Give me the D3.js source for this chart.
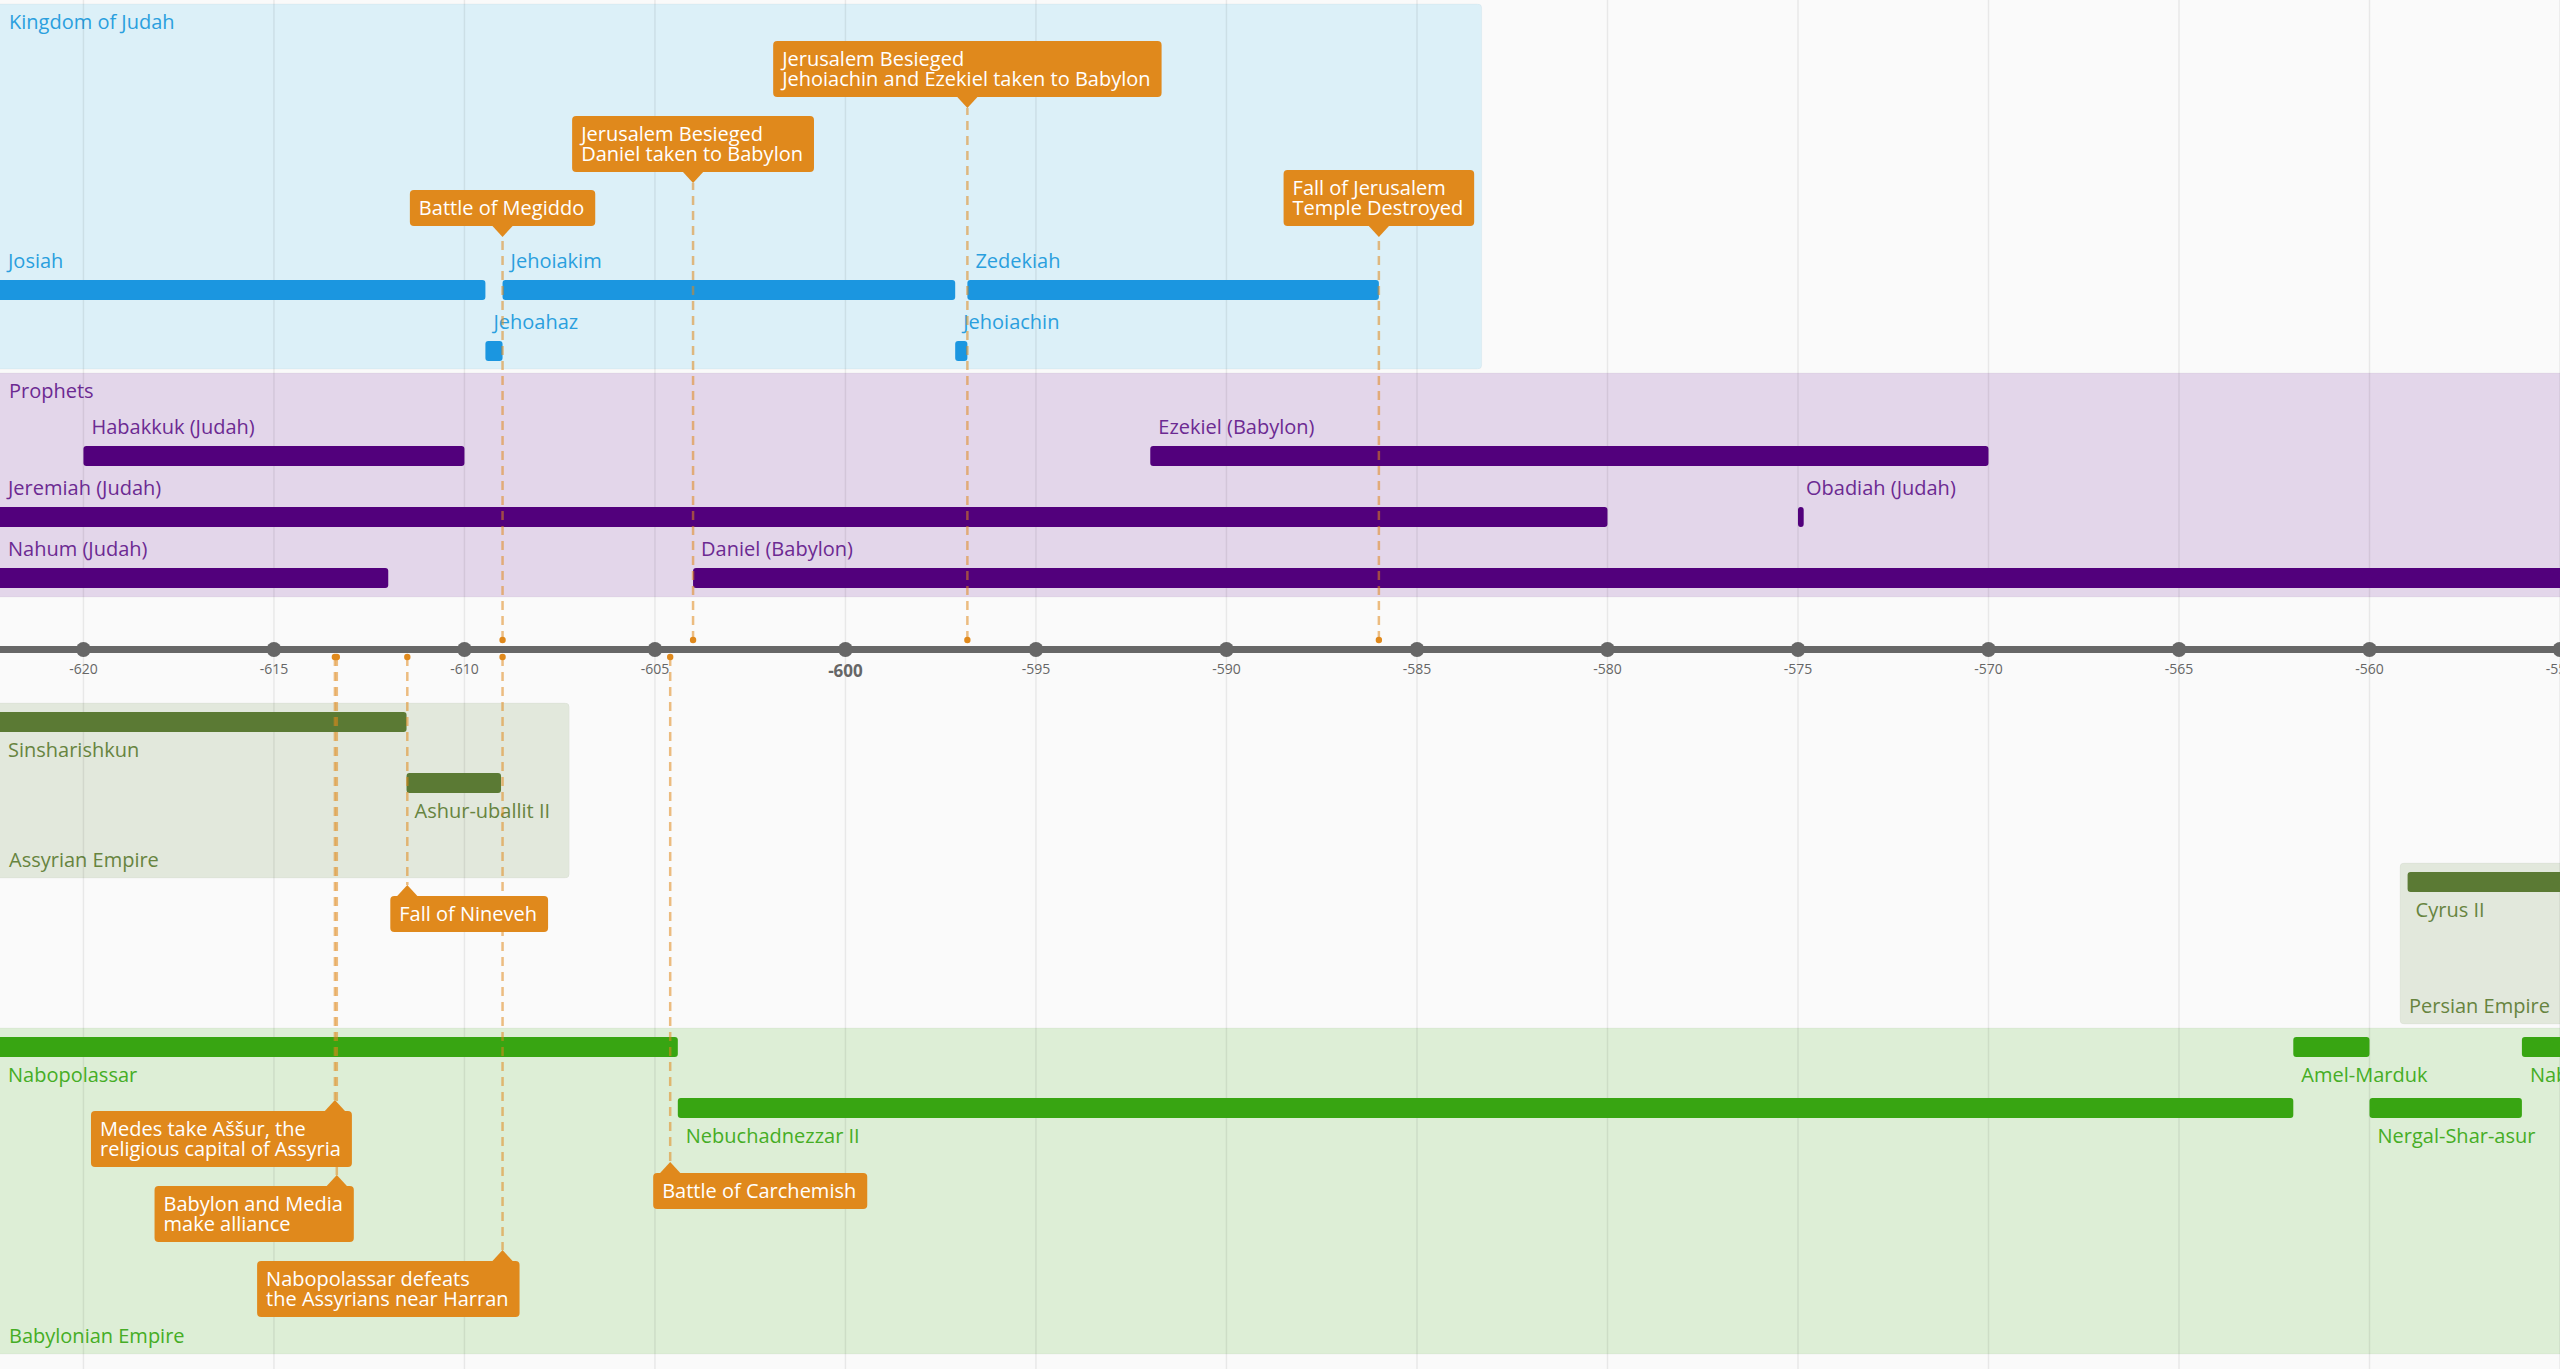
<!DOCTYPE html>
<html>
<head>
<meta charset="utf-8">
<script src="https://cdn.jsdelivr.net/npm/d3@7"></script>
<style>
  body { margin: 0; background: #fafafa; overflow: hidden; }
  svg { display: block; font-family: "Open Sans", sans-serif; }
</style>
</head>
<body>
<div class="chart"></div>
<script>
// ---- data (years are astronomical, negative = BC) ----
const judahReigns = [
  { name: "Josiah",     start: -640,    end: -609.45, row: 0 },
  { name: "Jehoiakim",  start: -609.0,  end: -597.12, row: 0 },
  { name: "Zedekiah",   start: -596.8,  end: -586.0,  row: 0 },
  { name: "Jehoahaz",   start: -609.45, end: -609.0,  row: 1 },
  { name: "Jehoiachin", start: -597.12, end: -596.8,  row: 1 },
];
const prophets = [
  { name: "Habakkuk (Judah)",  start: -620,    end: -610,    row: 0 },
  { name: "Ezekiel (Babylon)", start: -592,    end: -570,    row: 0 },
  { name: "Jeremiah (Judah)",  start: -627,    end: -580,    row: 1 },
  { name: "Obadiah (Judah)",   start: -575.0,  end: -574.85, row: 1 },
  { name: "Nahum (Judah)",     start: -630,    end: -612,    row: 2 },
  { name: "Daniel (Babylon)",  start: -604,    end: -530,    row: 2 },
];
const assyrianKings = [
  { name: "Sinsharishkun",    start: -627,    end: -611.52, row: 0 },
  { name: "Ashur-uballit II", start: -611.52, end: -609.04, row: 1 },
];
const persianKings = [
  { name: "Cyrus II", start: -559, end: -530, row: 0 },
];
const babylonianKings = [
  { name: "Nabopolassar",     start: -626,   end: -604.4, row: 0 },
  { name: "Amel-Marduk",      start: -562,   end: -560,   row: 0 },
  { name: "Nabonidus",        start: -556,   end: -539,   row: 0 },
  { name: "Nebuchadnezzar II", start: -604.4, end: -562,  row: 1 },
  { name: "Nergal-Shar-asur", start: -560,   end: -556,   row: 1 },
];
// band spans in years
const groupNames = ["Kingdom of Judah", "Prophets", "Assyrian Empire", "Persian Empire", "Babylonian Empire"];
const groupSpans = [[-640, -583.3], [-640, -530], [-640, -607.25], [-559.2, -530], [-640, -530]];
const groupItems = [judahReigns, prophets, assyrianKings, persianKings, babylonianKings];

const events = [
  { label: ["Battle of Megiddo"], year: -609.0, lane: "judah0", align: "center" },
  { label: ["Jerusalem Besieged", "Daniel taken to Babylon"], year: -604.0, lane: "judah1", align: "center" },
  { label: ["Jerusalem Besieged", "Jehoiachin and Ezekiel taken to Babylon"], year: -596.8, lane: "judah2", align: "center" },
  { label: ["Fall of Jerusalem", "Temple Destroyed"], year: -586.0, lane: "judah0", align: "center" },
  { label: ["Fall of Nineveh"], year: -611.5, lane: "assyria", align: "left" },
  { label: ["Medes take Aššur, the", "religious capital of Assyria"], year: -613.4, lane: "babylon0", align: "right" },
  { label: ["Babylon and Media", "make alliance"], year: -613.35, lane: "babylon1", align: "right" },
  { label: ["Nabopolassar defeats", "the Assyrians near Harran"], year: -609.0, lane: "babylon2", align: "right" },
  { label: ["Battle of Carchemish"], year: -604.6, lane: "babylonNeb", align: "left" },
];
const tickYears = d3.range(-620, -554, 5);

// ---- layout ----
const width = 2560, height = 1369;
const axisY = 649.5;
const barH = 20, rowStep = 61;
const groupLayout = [
  { side: "above", top: 4,    bottom: 369,  firstRow: 280,  band: "#dcf0f8", bar: "#1b96e0", text: "#2a9fde" },
  { side: "above", top: 373,  bottom: 597,  firstRow: 446,  band: "#e3d6ea", bar: "#52007c", text: "#6c2a92" },
  { side: "below", top: 703,  bottom: 878,  firstRow: 712,  band: "#e2e8dc", bar: "#5b7a34", text: "#67843f" },
  { side: "below", top: 863,  bottom: 1024, firstRow: 872,  band: "#e2e8dc", bar: "#5b7a34", text: "#67843f" },
  { side: "below", top: 1028, bottom: 1354, firstRow: 1037, band: "#ddeed6", bar: "#38a512", text: "#45ad25" },
];
const laneTip = { judah0: 237, judah1: 183, judah2: 108, assyria: 885, babylon0: 1100, babylon1: 1175, babylon2: 1250, babylonNeb: 1162 };
const eventColor = "#e0891c";
const labelSize = "20px";

const x = d3.scaleLinear().domain([-622.19, -555.0]).range([0, width]);

const svg = d3.select(".chart").append("svg")
  .attr("width", width)
  .attr("height", height);
svg.append("rect").attr("width", width).attr("height", height).attr("fill", "#fafafa");

const bands = svg.append("g").attr("class", "bands");
const grid = svg.append("g").attr("class", "grid");
const marks = svg.append("g").attr("class", "marks");
const lines = svg.append("g").attr("class", "event-lines");
const axis = svg.append("g").attr("class", "axis");
const callouts = svg.append("g").attr("class", "callouts");

//
// Bands
//
groupNames.forEach((name, i) => {
  const L = groupLayout[i];
  const x0 = Math.max(x(groupSpans[i][0]), -10);
  const x1 = Math.min(x(groupSpans[i][1]), width + 10);
  bands.append("rect")
    .attr("x", x0).attr("y", L.top)
    .attr("width", x1 - x0).attr("height", L.bottom - L.top)
    .attr("rx", 4)
    .attr("fill", L.band)
    .attr("stroke", "rgba(0,0,0,0.03)");
  bands.append("text")
    .attr("x", Math.max(x0, 0) + 9)
    .attr("y", L.side === "above" ? L.top + 25 : L.bottom - 11)
    .attr("fill", L.text)
    .style("font-size", labelSize)
    .text(name);
});

//
// Grid
//
grid.selectAll("line").data(tickYears).enter()
  .append("line")
    .attr("x1", d => x(d)).attr("x2", d => x(d))
    .attr("y1", 0).attr("y2", height)
    .attr("stroke", "rgba(0,0,0,0.07)")
    .attr("stroke-width", 1.5);

//
// Bars + labels
//
groupItems.forEach((items, i) => {
  const L = groupLayout[i];
  const g = marks.append("g");
  const rowY = r => L.firstRow + r * rowStep;
  g.selectAll("rect").data(items).enter()
    .append("rect")
      .attr("x", d => x(d.start))
      .attr("y", d => rowY(d.row))
      .attr("width", d => Math.max(x(d.end) - x(d.start), 3))
      .attr("height", barH)
      .attr("rx", 3)
      .attr("fill", L.bar);
  g.selectAll("text").data(items).enter()
    .append("text")
      .attr("x", d => Math.max(x(d.start), 0) + 8)
      .attr("y", d => L.side === "above" ? rowY(d.row) - 12 : rowY(d.row) + barH + 25)
      .attr("fill", L.text)
      .style("font-size", labelSize)
      .text(d => d.name);
});

//
// Event dashed lines + dots
//
events.forEach(d => {
  const px = x(d.year);
  const tip = laneTip[d.lane];
  const above = tip < axisY;
  const dotY = above ? axisY - 9.5 : axisY + 7.5;
  lines.append("line")
    .attr("x1", px).attr("x2", px)
    .attr("y1", dotY).attr("y2", tip)
    .attr("stroke", eventColor)
    .attr("stroke-opacity", 0.55)
    .attr("stroke-width", 2.5)
    .attr("stroke-dasharray", "9,6");
  lines.append("circle")
    .attr("cx", px).attr("cy", dotY).attr("r", 3.2)
    .attr("fill", eventColor);
});

//
// Axis
//
axis.append("line")
  .attr("x1", 0).attr("x2", width)
  .attr("y1", axisY).attr("y2", axisY)
  .attr("stroke", "#676767")
  .attr("stroke-width", 7);
axis.selectAll("circle").data(tickYears).enter()
  .append("circle")
    .attr("cx", d => x(d)).attr("cy", axisY).attr("r", 7.5)
    .attr("fill", "#676767");
axis.selectAll("text").data(tickYears).enter()
  .append("text")
    .attr("x", d => x(d))
    .attr("y", d => d % 100 === 0 ? 677 : 674)
    .attr("text-anchor", "middle")
    .attr("fill", "#666")
    .style("font-size", d => d % 100 === 0 ? "17px" : "14px")
    .style("font-weight", d => d % 100 === 0 ? "bold" : "normal")
    .text(d => d);

//
// Callouts
//
const lineH = 20, padX = 9, tipH = 11, tipW = 11;
events.forEach(d => {
  const px = x(d.year);
  const tip = laneTip[d.lane];
  const above = tip < axisY;
  const g = callouts.append("g");
  const box = g.append("rect");
  const arrow = g.append("path");
  const text = g.append("text")
    .attr("fill", "#fff")
    .style("font-size", labelSize);
  d.label.forEach((line, i) => {
    text.append("tspan").attr("dy", i ? lineH : 0).text(line);
  });
  const tw = d3.max(text.selectAll("tspan").nodes(), n => n.getComputedTextLength());
  const w = tw + padX * 2 + 2;
  const h = 36 + lineH * (d.label.length - 1);
  let left = px - w / 2;
  if (d.align === "left") left = px - 17;
  if (d.align === "right") left = px + 17 - w;
  const top = above ? tip - tipH - h : tip + tipH;
  box.attr("x", left).attr("y", top).attr("width", w).attr("height", h)
    .attr("rx", 4).attr("fill", eventColor);
  const baseY = above ? top + h - 1 : top + 1;
  arrow.attr("d", `M ${px - tipW} ${baseY} L ${px} ${tip} L ${px + tipW} ${baseY} Z`)
    .attr("fill", eventColor);
  text.attr("y", top + 25);
  text.selectAll("tspan").attr("x", left + padX);
});
</script>
</body>
</html>
